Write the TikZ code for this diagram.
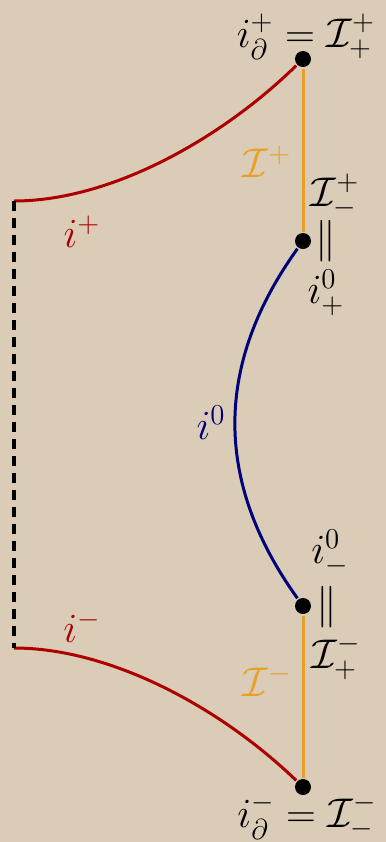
\documentclass[tikz,border=0pt]{standalone}
\usepackage{amsmath}
\usetikzlibrary{positioning}

\definecolor{parchment}{RGB}{219,204,183}
\definecolor{bdred}{RGB}{172,0,0}
\definecolor{bdblue}{RGB}{0,0,120}
\definecolor{scriorange}{RGB}{232,160,36}

\tikzset{
  bpoint/.style={circle, fill=black, inner sep=0pt, minimum size=8pt},
  lbl/.style={inner sep=1pt, font=\fontsize{21}{25}\selectfont},
}

\begin{document}
\begin{tikzpicture}[x=0.5pt, y=-0.5pt, line width=1.5pt]
    % Background sheet
    \fill[parchment] (0,0) rectangle (386,842);
    \useasboundingbox (0,0) rectangle (386,842);

    % Boundary points
    \node[bpoint] (itop) at (303,59) {};
    \node[bpoint] (izplus) at (303,241) {};
    \node[bpoint] (izminus) at (303,606) {};
    \node[bpoint] (ibot) at (303,787) {};
    \coordinate (lefttop) at (14,201);
    \coordinate (leftbot) at (14,648);

    % Null infinity segments
    \draw[scriorange] (itop) -- (izplus);
    \draw[scriorange] (izminus) -- (ibot);

    % Spatial infinity
    \draw[bdblue] (izplus) .. controls (214,365) and (214,482) .. (izminus);

    % Timelike infinities
    \draw[bdred] (lefttop) .. controls (110,201) and (220,140) .. (itop);
    \draw[bdred] (leftbot) .. controls (110,648) and (220,707) .. (ibot);

    % Cut-off edge
    \draw[dash pattern=on 5pt off 3.5pt, line width=1.6pt] (lefttop) -- (leftbot);

    % Labels
    \node[lbl] (ltop) at (306,37) {$i^+_\partial = \mathcal{I}^+_+$};
    \node[lbl] (lbot) at (307,817) {$i^-_\partial = \mathcal{I}^-_-$};
    \node[lbl, text=scriorange] (lscriplus) at (267,162) {$\mathcal{I}^+$};
    \node[lbl, text=scriorange] (lscriminus) at (267,681) {$\mathcal{I}^-$};
    \node[lbl] (lscripm) at (335,196) {$\mathcal{I}^+_-$};
    \node[lbl] (leqtop) at (326,241) {$\parallel$};
    \node[lbl] (lizplus) at (326,293) {$i^0_+$};
    \node[lbl] (lizminus) at (330,553) {$i^0_-$};
    \node[lbl] (leqbot) at (327,607) {$\parallel$};
    \node[lbl] (lscrimp) at (336,657) {$\mathcal{I}^-_+$};
    \node[lbl, text=bdblue] (liz) at (211,423) {$i^0$};
    \node[lbl, text=bdred] (liplus) at (82,232) {$i^+$};
    \node[lbl, text=bdred] (liminus) at (82,627) {$i^-$};
\end{tikzpicture}
\end{document}
